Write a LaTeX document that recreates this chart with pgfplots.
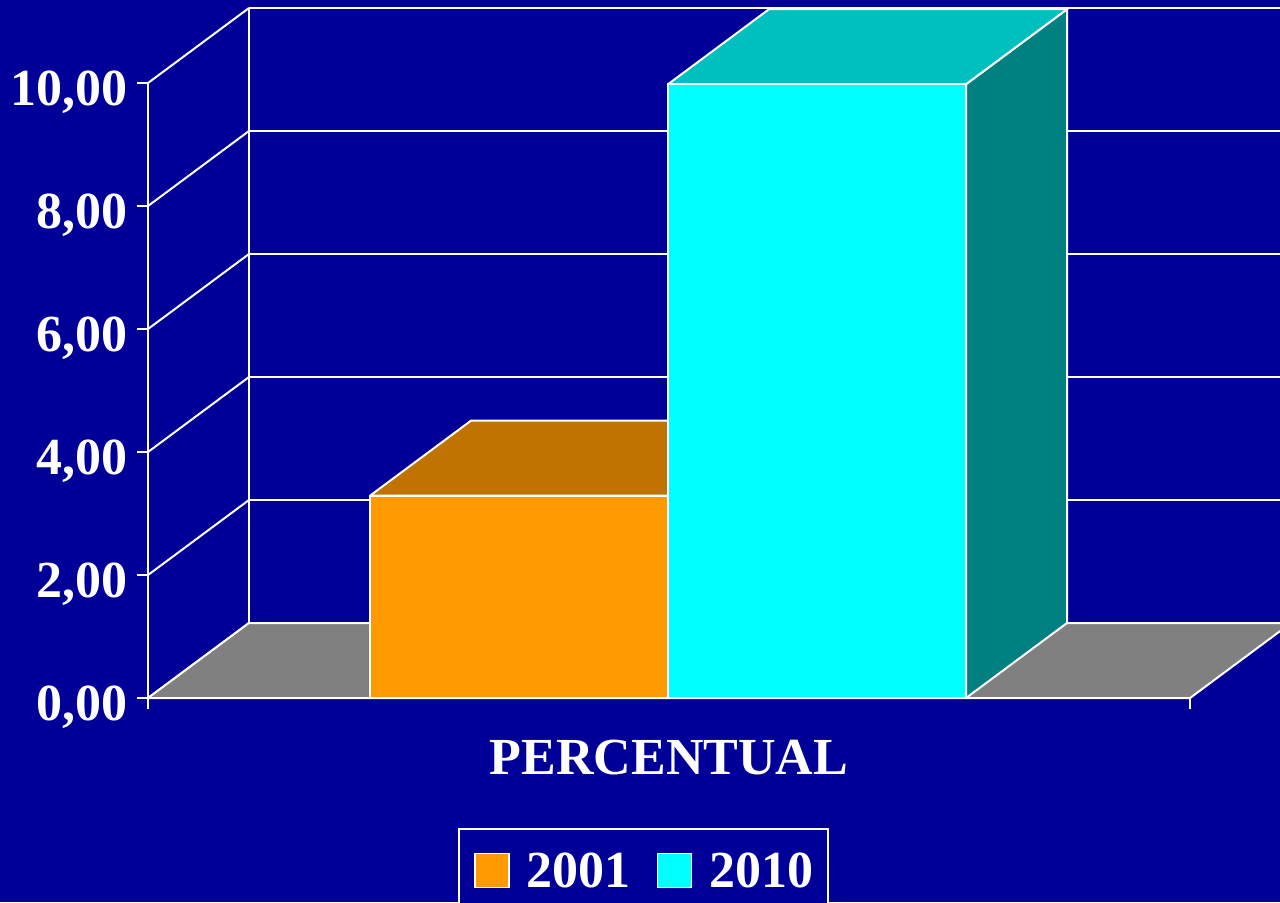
\documentclass[border=0pt]{standalone}
\usepackage{pgfplots}
\pgfplotsset{compat=1.18}
\usepackage{fontspec}
\setmainfont{Liberation Serif}
\definecolor{bgblue}{HTML}{000099}
\definecolor{floorgray}{HTML}{808080}
\definecolor{orangeF}{HTML}{FF9900}
\definecolor{orangeT}{HTML}{C07300}
\definecolor{cyanF}{HTML}{00FFFF}
\definecolor{cyanT}{HTML}{00BFBF}
\definecolor{cyanS}{HTML}{008080}
\newcommand{\bigfont}{\bfseries\fontsize{14.8}{17}\selectfont}
\pgfplotsset{boxlegend/.style={legend image code/.code={%
  \draw[##1, draw=white, line width=0.15mm] (0mm,-1.7mm) rectangle (3.4mm,1.7mm);}}}

\begin{document}
\begin{tikzpicture}
\useasboundingbox (-14.8mm,-20.4mm) rectangle (113.2mm,69.8mm);
\clip (-14.8mm,-20.4mm) rectangle (113.2mm,69.8mm);
\fill[bgblue] (-14.8mm,-20.4mm) rectangle (113.2mm,69.8mm);
\begin{axis}[
  x=0.1mm, y=6.15mm,
  xmin=0, xmax=1132, ymin=0, ymax=11.35,
  anchor=origin, at={(0,0)},
  clip=false,
  axis line style={draw=none},
  tick pos=left, tick align=outside,
  major tick length=1.1mm,
  tick style={white, line width=0.2mm},
  xtick={0,1042}, xticklabels={},
  ytick={0,2,...,10},
  scaled y ticks=false,
  /pgf/number format/assume math mode=true,
  y tick label style={font=\bigfont, text=white, anchor=base east, inner sep=0pt,
    xshift=-0.9mm, yshift=-2.25mm,
    /pgf/number format/fixed, /pgf/number format/fixed zerofill,
    /pgf/number format/precision=2, /pgf/number format/use comma},
  xlabel={PERCENTUAL},
  xlabel style={at={(axis description cs:0.4602,-0.0852)}, anchor=center,
    font=\bigfont, text=white, inner sep=0pt},
  legend columns=2,
  legend style={at={(axis description cs:0.438,-0.1858)}, anchor=north,
    draw=white, line width=0.2mm, fill=bgblue, text=white, font=\bigfont,
    inner xsep=1.5mm, inner ysep=2.4mm,
    nodes={inner sep=0pt, text depth=0pt},
    /tikz/every odd column/.style={column sep=1.7mm},
    /tikz/every even column/.style={column sep=2.6mm}},
  every axis plot/.append style={line width=0.2mm},
]
% back wall grid lines
\addplot[white, forget plot] coordinates {(101,1.22) (1132,1.22)};
\addplot[white, forget plot] coordinates {(101,3.22) (1132,3.22)};
\addplot[white, forget plot] coordinates {(101,5.22) (1132,5.22)};
\addplot[white, forget plot] coordinates {(101,7.22) (1132,7.22)};
\addplot[white, forget plot] coordinates {(101,9.22) (1132,9.22)};
\addplot[white, forget plot] coordinates {(101,11.22) (1132,11.22)};
% side wall lines
\addplot[white, forget plot] coordinates {(0,0) (101,1.22)};
\addplot[white, forget plot] coordinates {(0,2) (101,3.22)};
\addplot[white, forget plot] coordinates {(0,4) (101,5.22)};
\addplot[white, forget plot] coordinates {(0,6) (101,7.22)};
\addplot[white, forget plot] coordinates {(0,8) (101,9.22)};
\addplot[white, forget plot] coordinates {(0,10) (101,11.22)};
\addplot[white, forget plot] coordinates {(101,1.22) (101,11.22)};
\addplot[white, forget plot] coordinates {(0,0) (0,10)};
% floor
\addplot[fill=floorgray, draw=white, forget plot] coordinates {(0,0) (1042,0) (1143,1.22) (101,1.22) (0,0)};
% 2001
\addplot[fill=orangeT, draw=white, forget plot] coordinates {(222,3.29) (520,3.29) (621,4.51) (323,4.51) (222,3.29)};
\addplot[fill=orangeF, draw=white, boxlegend]
  coordinates {(222,0) (520,0) (520,3.29) (222,3.29) (222,0)};
\addlegendentry{2001}
% 2010
\addplot[fill=cyanS, draw=white, forget plot] coordinates {(818,0) (919,1.22) (919,11.20) (818,9.98) (818,0)};
\addplot[fill=cyanT, draw=white, forget plot] coordinates {(520,9.98) (818,9.98) (919,11.20) (621,11.20) (520,9.98)};
\addplot[fill=cyanF, draw=white, boxlegend]
  coordinates {(520,0) (818,0) (818,9.98) (520,9.98) (520,0)};
\addlegendentry{2010}
\end{axis}
\end{tikzpicture}
\end{document}
